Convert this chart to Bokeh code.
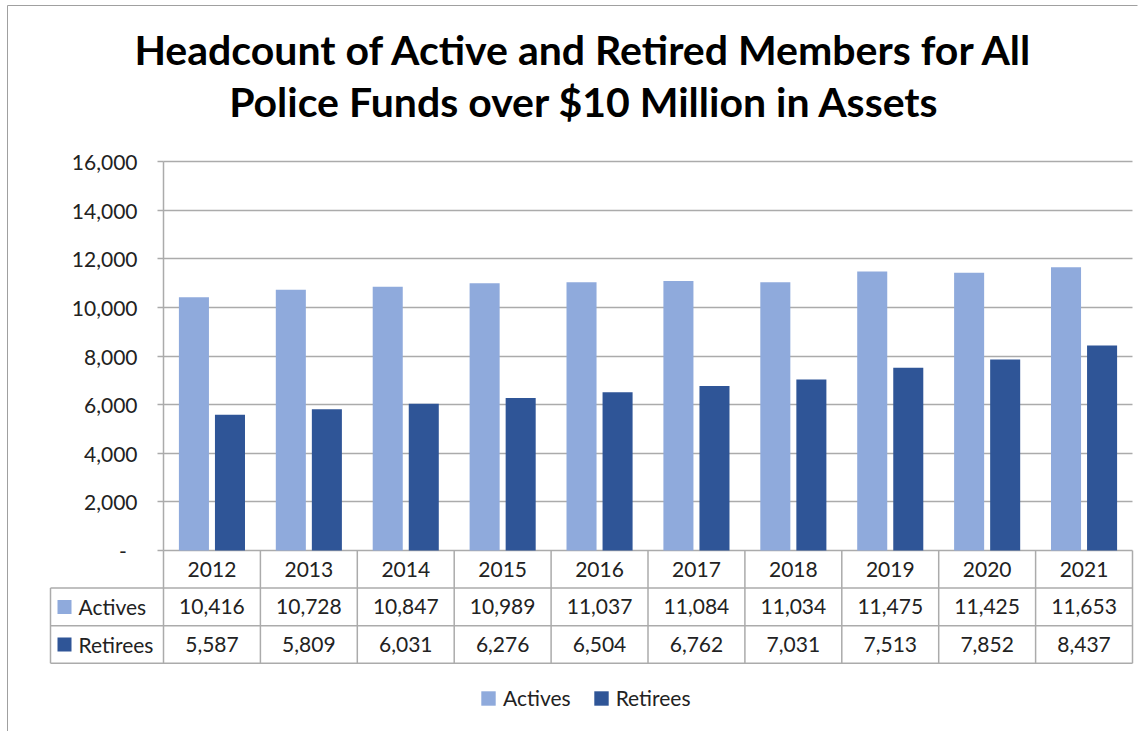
from bokeh.plotting import figure
from bokeh.models import Range1d, Legend, LegendItem, FixedTicker, NumeralTickFormatter, ColumnDataSource
from bokeh.transform import dodge
from bokeh.embed import file_html
from bokeh.resources import INLINE
from bokeh.core.properties import value

# ---------------- data ----------------
years = ["2012", "2013", "2014", "2015", "2016", "2017", "2018", "2019", "2020", "2021"]
actives = [10416, 10728, 10847, 10989, 11037, 11084, 11034, 11475, 11425, 11653]
retirees = [5587, 5809, 6031, 6276, 6504, 6762, 7031, 7513, 7852, 8437]
series_names = ["Actives", "Retirees"]
y_ticks = [0, 2000, 4000, 6000, 8000, 10000, 12000, 14000, 16000]
title_lines = ["Headcount of Active and Retired Members for All",
               "Police Funds over $10 Million in Assets"]

# ---------------- style / layout ----------------
ACTIVE_COLOR = "#8FAADC"
RETIREE_COLOR = "#2F5597"
LINE = "#ABABAB"
TEXT = "#222222"
FONT = "Lato"
FS = "21px"

n = len(years)
W, H = 1145, 731
AX_PX, BASE_PX, TOP_PX = 163.0, 550.0, 161.0   # y axis x, zero line y, top tick y
CAT_PX = 96.9
ROW_PX = 37.6
LABEL_COL_PX = 113.0
PX_PER_UNIT = y_ticks[-1] / (BASE_PX - TOP_PX)


def px2x(px):
    return (px - AX_PX) / CAT_PX


def py2y(py):
    return (BASE_PX - py) * PX_PER_UNIT


def row_y(r):
    return py2y(BASE_PX + ROW_PX * r)


p = figure(width=W, height=H, output_backend="svg", toolbar_location=None,
           x_range=Range1d(px2x(0), px2x(W)), y_range=Range1d(py2y(H), py2y(0)),
           min_border=0, x_axis_location=None)
p.outline_line_color = None
p.xgrid.visible = False
p.ygrid.ticker = FixedTicker(ticks=y_ticks)
p.ygrid.grid_line_color = LINE
p.ygrid.grid_line_width = 1.5
p.ygrid.cross_bounds = (0, n)

ya = p.yaxis[0]
ya.fixed_location = 0
ya.bounds = (0, y_ticks[-1])
ya.ticker = FixedTicker(ticks=y_ticks)
ya.formatter = NumeralTickFormatter(format="0,0")
ya.major_label_overrides = {0: "-\u00a0\u00a0"}
ya.axis_line_color = LINE
ya.axis_line_width = 1.5
ya.major_tick_line_color = LINE
ya.major_tick_line_width = 1.5
ya.major_tick_out = 6
ya.major_tick_in = 0
ya.minor_tick_line_color = None
ya.major_label_standoff = 20
ya.major_label_text_font = FONT
ya.major_label_text_font_size = FS
ya.major_label_text_color = TEXT

# bars
src = ColumnDataSource(dict(idx=[i + 0.5 for i in range(n)], act=actives, ret=retirees))
p.vbar(x=dodge("idx", -0.186, range=p.x_range), top="act", width=0.31, bottom=0,
       source=src, fill_color=ACTIVE_COLOR, line_color=None)
p.vbar(x=dodge("idx", 0.186, range=p.x_range), top="ret", width=0.31, bottom=0,
       source=src, fill_color=RETIREE_COLOR, line_color=None)

# title
p.text(x=[px2x(584)] * 2, y=[py2y(48.5), py2y(101)], text=title_lines,
       text_align="center", text_baseline="alphabetic", text_font=value(FONT),
       text_font_style="bold", text_font_size="41px", text_color="#000000")

# outer chart border (left and top edges visible)
p.segment(x0=[px2x(7), px2x(7)], y0=[py2y(5), py2y(5)], x1=[px2x(7), px2x(1137)],
          y1=[py2y(H), py2y(5)], line_color="#A0A0A0", line_width=1)

# data table
lab_left = -LABEL_COL_PX / CAT_PX
vx = list(range(n + 1)) + [lab_left]
vy0 = [row_y(0)] * (n + 1) + [row_y(1)]
vy1 = [row_y(3)] * (n + 2)
p.segment(x0=vx, y0=vy0, x1=vx, y1=vy1, line_color=LINE, line_width=1.5)
hy = [row_y(1), row_y(2), row_y(3)]
p.segment(x0=[lab_left] * 3, y0=hy, x1=[n] * 3, y1=hy, line_color=LINE, line_width=1.5)

centers = [i + 0.5 for i in range(n)]
tkw = dict(text_baseline="middle", text_font=value(FONT), text_font_size=FS, text_color=TEXT)
p.text(x=centers, y=[row_y(0.5)] * n, text=years, text_align="center", **tkw)
p.text(x=centers, y=[row_y(1.5)] * n, text=[f"{v:,}" for v in actives], text_align="center", **tkw)
p.text(x=centers, y=[row_y(2.5)] * n, text=[f"{v:,}" for v in retirees], text_align="center", **tkw)

sq_x = px2x(64)
lbl_x = px2x(78)
sqA = p.rect(x=[sq_x], y=[row_y(1.5)], width=14, height=14, width_units="screen",
             height_units="screen", fill_color=ACTIVE_COLOR, line_color=None)
sqR = p.rect(x=[sq_x], y=[row_y(2.5)], width=14, height=14, width_units="screen",
             height_units="screen", fill_color=RETIREE_COLOR, line_color=None)
p.text(x=[lbl_x, lbl_x], y=[row_y(1.5), row_y(2.5)], text=series_names, text_align="left", **tkw)

legend = Legend(items=[LegendItem(label=series_names[0], renderers=[sqA]),
                       LegendItem(label=series_names[1], renderers=[sqR])],
                orientation="horizontal", location=(479, 21),
                glyph_width=18, glyph_height=18, label_standoff=6, spacing=21,
                label_text_font=FONT, label_text_font_size=FS, label_text_color=TEXT,
                border_line_color=None, background_fill_alpha=0, padding=0, margin=0)
p.add_layout(legend, "center")

open("out.html", "w").write(file_html(p, INLINE))
